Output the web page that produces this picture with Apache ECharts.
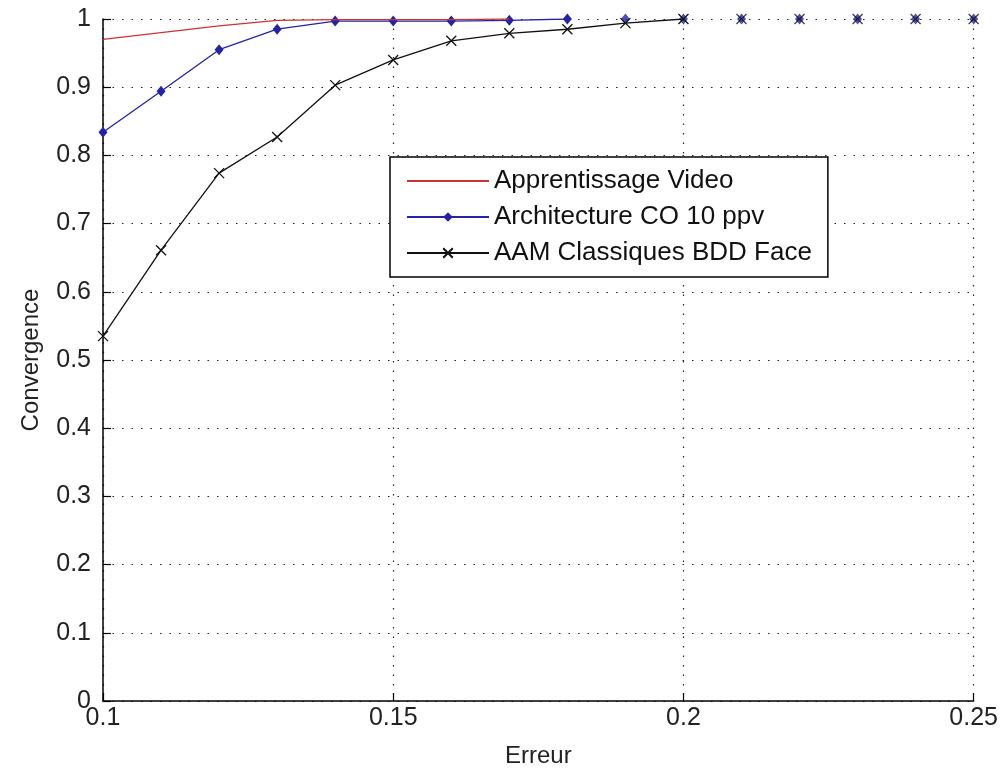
<!DOCTYPE html>
<html>
<head>
<meta charset="utf-8">
<script src="https://cdn.jsdelivr.net/npm/echarts@6/dist/echarts.min.js"></script>
<style>
  html, body { margin: 0; padding: 0; background: #fff; }
  #chart { width: 1001px; height: 774px; }
</style>
</head>
<body>
<div id="chart"></div>
<script>
// error thresholds (x axis)
const errors = [0.10, 0.11, 0.12, 0.13, 0.14, 0.15, 0.16, 0.17, 0.18, 0.19, 0.20, 0.21, 0.22, 0.23, 0.24, 0.25];

// convergence rate for each method
const apprentissageVideo = [0.970, 0.980, 0.990, 0.998, 0.999, 0.999, 0.999, 1, 1, 1, 1, 1, 1, 1, 1, 1];
const architectureCO = [0.834, 0.894, 0.955, 0.985, 0.997, 0.997, 0.997, 0.998, 1, 1, 1, 1, 1, 1, 1, 1];
const aamClassiques = [0.535, 0.661, 0.774, 0.827, 0.903, 0.940, 0.968, 0.979, 0.985, 0.994, 1, 1, 1, 1, 1, 1];

const seriesNames = ['Apprentissage Video', 'Architecture CO 10 ppv', 'AAM Classiques BDD Face'];
const yTicks = ['0', '0.1', '0.2', '0.3', '0.4', '0.5', '0.6', '0.7', '0.8', '0.9', '1'];

const FONT = '"Liberation Sans", Arial, sans-serif';
const crossSymbol = 'path://M0,0L10,10M10,0L0,10';

// the line is drawn up to the first point reaching 1; past that it lies on the top edge
function firstOne(vals) {
    const i = vals.findIndex(v => v >= 1);
    return i < 0 ? vals.length - 1 : i;
}
function linePart(vals) {
    const end = firstOne(vals);
    return errors.slice(0, end + 1).map((x, i) => [x, vals[i]]);
}
function markerPart(vals) {
    const end = firstOne(vals);
    return errors.slice(end + 1).map((x, i) => [x, vals[end + 1 + i]]);
}

const chart = echarts.init(document.getElementById('chart'));

const blue = '#2323a8';
const red = '#c83434';
const black = '#111';

chart.setOption({
    animation: false,
    backgroundColor: '#fff',
    grid: { left: 103, right: 26, top: 19, bottom: 73 },
    legend: {
        data: [
            { name: seriesNames[0], itemStyle: { opacity: 0 } },
            { name: seriesNames[1] },
            { name: seriesNames[2] }
        ],
        orient: 'vertical',
        left: 390,
        top: 157,
        padding: [11, 16, 11, 16],
        itemWidth: 82,
        itemHeight: 12,
        itemGap: 10,
        borderColor: '#000',
        borderWidth: 1.5,
        backgroundColor: '#fff',
        textStyle: { fontFamily: FONT, fontSize: 26, color: '#111' }
    },
    xAxis: {
        type: 'value',
        min: 0.1,
        max: 0.25,
        interval: 0.05,
        name: 'Erreur',
        nameLocation: 'middle',
        nameGap: 43,
        nameTextStyle: { fontFamily: FONT, fontSize: 24, color: '#222' },
        axisLine: { lineStyle: { color: '#000', width: 1.5 } },
        axisTick: { inside: true, length: 8, lineStyle: { color: '#000', width: 1.2 } },
        axisLabel: { fontFamily: FONT, fontSize: 25, color: '#222', margin: 5 },
        splitLine: { show: true, lineStyle: { color: '#222', width: 1.2, type: [1.5, 8] } }
    },
    yAxis: {
        type: 'value',
        min: 0,
        max: 1,
        interval: 0.1,
        name: 'Convergence',
        nameLocation: 'middle',
        nameGap: 60,
        nameTextStyle: { fontFamily: FONT, fontSize: 24, color: '#222' },
        axisLine: { show: true, lineStyle: { color: '#000', width: 1.5 } },
        axisTick: { show: true, inside: true, length: 8, lineStyle: { color: '#000', width: 1.2 } },
        axisLabel: {
            fontFamily: FONT, fontSize: 25, color: '#222', margin: 12,
            formatter: (v) => yTicks[Math.round(v * 10)]
        },
        splitLine: { show: true, lineStyle: { color: '#222', width: 1.2, type: [1.5, 8] } }
    },
    series: [
        {
            name: seriesNames[0],
            type: 'line',
            data: linePart(apprentissageVideo),
            symbol: 'none',
            lineStyle: { color: red, width: 1.3 },
            itemStyle: { color: red },
            z: 4
        },
        {
            name: seriesNames[1],
            type: 'line',
            data: linePart(architectureCO),
            symbol: 'diamond',
            symbolSize: [9, 11],
            lineStyle: { color: blue, width: 1.3 },
            itemStyle: { color: blue },
            z: 3
        },
        {
            name: seriesNames[2],
            type: 'line',
            data: linePart(aamClassiques),
            symbol: crossSymbol,
            symbolSize: 10,
            lineStyle: { color: black, width: 1.3 },
            itemStyle: { color: black, borderColor: black, borderWidth: 1.3 },
            z: 5
        },
        {
            name: 'co-markers',
            type: 'scatter',
            data: markerPart(architectureCO),
            symbol: 'diamond',
            symbolSize: [9, 11],
            itemStyle: { color: blue },
            clip: false,
            z: 3
        },
        {
            name: 'aam-markers',
            type: 'scatter',
            data: markerPart(aamClassiques),
            symbol: crossSymbol,
            symbolSize: 10,
            itemStyle: { color: black, borderColor: black, borderWidth: 1.3 },
            clip: false,
            z: 5
        }
    ]
});
</script>
</body>
</html>
